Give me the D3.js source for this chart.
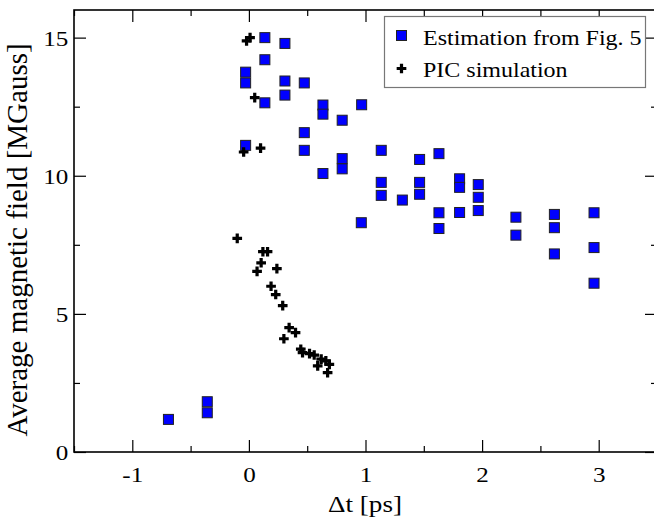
<!DOCTYPE html>
<html>
<head>
<meta charset="utf-8">
<script src="https://cdn.jsdelivr.net/npm/d3@7"></script>
<style>
  body { margin: 0; background: #fff; }
  text { font-family: "Liberation Serif", "Times New Roman", serif; fill: #000; }
</style>
</head>
<body>
<svg id="chart"></svg>
<script>
// Estimation from Fig. 5
var estX = [-0.69, -0.357, -0.357, 0.137, 0.309, 0.137, -0.028, -0.028, 0.309, 0.475, 0.309, 0.137, 0.635, 0.635,
            0.967, 0.80, 0.475, -0.028, 0.475, 1.135, 0.80, 0.80, 0.635, 1.135, 1.135, 1.316, 0.964,
            1.464, 1.63, 1.464, 1.464, 1.63, 1.63, 1.807, 1.807, 1.807, 1.967, 1.967, 1.967,
            2.29, 2.29, 2.62, 2.62, 2.62, 2.96, 2.96, 2.96];
var estY = [1.18, 1.82, 1.42, 15.0, 14.79, 14.2, 13.75, 13.36, 13.43, 13.36, 12.92, 12.64, 12.56, 12.23,
            12.57, 12.01, 11.56, 11.1, 10.92, 10.92, 10.62, 10.25, 10.08, 9.76, 9.29, 9.12, 8.30,
            10.59, 10.8, 9.76, 9.33, 8.66, 8.09, 9.89, 9.58, 8.67, 9.68, 9.22, 8.74,
            8.5, 7.85, 8.6, 8.12, 7.17, 8.66, 7.4, 6.11];
// PIC simulation
var picX = [-0.02, 0.01, 0.05, -0.045, 0.1, -0.10, 0.12, 0.16, 0.105, 0.07, 0.24, 0.19, 0.23, 0.29,
            0.345, 0.40, 0.30, 0.445, 0.46, 0.52, 0.56, 0.62, 0.59, 0.69, 0.675, 0.66];
var picY = [14.88, 15.0, 12.83, 10.86, 11.0, 7.73, 7.25, 7.25, 6.85, 6.54, 6.64, 6.0, 5.7, 5.3,
            4.5, 4.32, 4.1, 3.72, 3.6, 3.56, 3.51, 3.36, 3.12, 3.17, 2.87, 3.3];

var xTicks = [-1, 0, 1, 2, 3];
var xMinor = [-1.5, -0.5, 0.5, 1.5, 2.5, 3.5];
var yTicks = [0, 5, 10, 15];
var yMinor = [2.5, 7.5, 12.5];
var legendLabels = ["Estimation from Fig. 5", "PIC simulation"];

var w = 654, h = 526;
var mLeft = 74, mRight = 657, mTop = 10, mBottom = 452;

var svg = d3.select("#chart").attr("width", w).attr("height", h);

var x = d3.scaleLinear().domain([-1.5, 3.5]).range([mLeft, mRight]);
var y = d3.scaleLinear().domain([0, 16]).range([mBottom, mTop]);

var fmt = function(d) { return String(d); };

// ticks on all four sides, pointing inward
function tickAxis(axis, vals, len, showLabels) {
  return axis.tickValues(vals).tickSizeInner(-len).tickSizeOuter(0)
    .tickFormat(showLabels ? fmt : "");
}

svg.append("g").attr("transform", "translate(0," + mBottom + ")")
  .call(tickAxis(d3.axisBottom(x), xTicks, 12, true))
  .call(function(g) {
    g.selectAll("text").attr("y", 30.5).attr("dy", 0)
      .attr("transform", "scale(1.14,1)").style("font-size", "22px");
  });
svg.append("g").attr("transform", "translate(0," + mBottom + ")")
  .call(tickAxis(d3.axisBottom(x), xMinor, 6, false));
svg.append("g").attr("transform", "translate(0," + mTop + ")")
  .call(tickAxis(d3.axisTop(x), xTicks, 12, false));
svg.append("g").attr("transform", "translate(0," + mTop + ")")
  .call(tickAxis(d3.axisTop(x), xMinor, 6, false));

svg.append("g").attr("transform", "translate(" + mLeft + ",0)")
  .call(tickAxis(d3.axisLeft(y), yTicks, 12, true))
  .call(function(g) {
    g.selectAll("text").attr("x", -5).attr("dy", "0.36em")
      .attr("transform", "scale(1.14,1)").style("font-size", "22px");
  });
svg.append("g").attr("transform", "translate(" + mLeft + ",0)")
  .call(tickAxis(d3.axisLeft(y), yMinor, 6, false));
svg.append("g").attr("transform", "translate(" + mRight + ",0)")
  .call(tickAxis(d3.axisRight(y), yTicks, 12, false));
svg.append("g").attr("transform", "translate(" + mRight + ",0)")
  .call(tickAxis(d3.axisRight(y), yMinor, 6, false));

svg.selectAll(".domain").remove();
svg.selectAll(".tick line").attr("stroke", "#000").attr("stroke-width", 1.2);

svg.append("rect")
  .attr("x", mLeft).attr("y", mTop)
  .attr("width", mRight - mLeft).attr("height", mBottom - mTop)
  .attr("fill", "none").attr("stroke", "#000").attr("stroke-width", 1.6);

// axis titles
svg.append("g").attr("transform", "translate(365,512) scale(1.18,1)")
  .append("text")
  .attr("text-anchor", "middle").style("font-size", "23px")
  .text("\u0394t [ps]");
svg.append("text")
  .attr("transform", "translate(27,240) rotate(-90)")
  .attr("text-anchor", "middle").style("font-size", "29px")
  .text("Average magnetic field [MGauss]");

var plus = d3.symbol().type(d3.symbolCross).size(52);

// estimation squares
svg.append("g").selectAll("rect")
  .data(d3.range(estX.length))
  .enter().append("rect")
    .attr("x", function(i) { return x(estX[i]) - 5; })
    .attr("y", function(i) { return y(estY[i]) - 5; })
    .attr("width", 10).attr("height", 10)
    .attr("fill", "#0000ff").attr("stroke", "#222").attr("stroke-width", 1);

// PIC pluses
svg.append("g").selectAll("path")
  .data(d3.range(picX.length))
  .enter().append("path")
    .attr("d", plus)
    .attr("transform", function(i) { return "translate(" + x(picX[i]) + "," + y(picY[i]) + ")"; })
    .attr("fill", "#000");

// legend
var lg = svg.append("g");
lg.append("rect")
  .attr("x", 384.5).attr("y", 16.5).attr("width", 261).attr("height", 71)
  .attr("fill", "#fff").attr("stroke", "#777").attr("stroke-width", 1.2);
lg.append("rect")
  .attr("x", 396.5).attr("y", 30.5).attr("width", 10).attr("height", 10)
  .attr("fill", "#0000ff").attr("stroke", "#222").attr("stroke-width", 1);
lg.append("path").attr("d", plus)
  .attr("transform", "translate(401.5,68.5)").attr("fill", "#000");
lg.selectAll("g.item")
  .data(legendLabels)
  .enter().append("g")
    .attr("transform", function(d, i) { return "translate(423," + (45 + i * 32) + ") scale(1.2,1)"; })
  .append("text")
    .style("font-size", "20px")
    .text(function(d) { return d; });
</script>
</body>
</html>
